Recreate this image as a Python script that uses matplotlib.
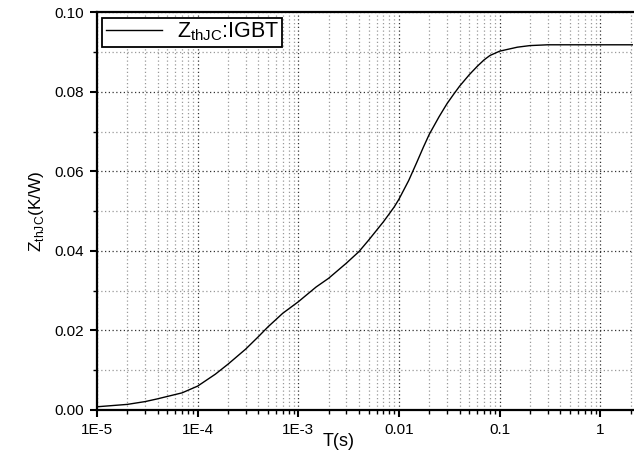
import matplotlib
matplotlib.use("Agg")
import matplotlib.pyplot as plt
from matplotlib.ticker import LogLocator, FixedLocator, MultipleLocator, NullFormatter

plt.rcParams['font.family'] = ['Liberation Sans', 'DejaVu Sans']
plt.rcParams['mathtext.fontset'] = 'custom'
plt.rcParams['mathtext.rm'] = 'Liberation Sans'

# values
t_s = [1e-5, 2e-5, 3e-5, 4e-5, 5e-5, 7e-5, 1e-4, 1.5e-4, 2e-4, 3e-4, 4e-4, 5e-4,
       7e-4, 1e-3, 1.5e-3, 2e-3, 3e-3, 4e-3, 5e-3, 7e-3, 8e-3, 9e-3, 1e-2,
       1.25e-2, 1.5e-2, 1.75e-2, 2e-2, 2.5e-2, 3e-2, 3.5e-2, 4e-2, 5e-2, 6e-2,
       7e-2, 8e-2, 0.1, 0.15, 0.2, 0.3, 0.5, 1.0, 2.1]
zth = [0.0008, 0.0014, 0.0021, 0.0028, 0.0034, 0.0043, 0.0060, 0.0090, 0.0115,
       0.0153, 0.0184, 0.0209, 0.0243, 0.0272, 0.0309, 0.0331, 0.0369, 0.0398,
       0.0427, 0.0473, 0.0493, 0.0511, 0.0530, 0.0577, 0.0622, 0.0661, 0.0693,
       0.0737, 0.0770, 0.0794, 0.0814, 0.0843, 0.0864, 0.0880, 0.0891, 0.0902,
       0.0912, 0.0916, 0.0918, 0.0918, 0.0918, 0.0918]

xticks = [1e-5, 1e-4, 1e-3, 1e-2, 1e-1, 1]
xticklabels = ['1E-5', '1E-4', '1E-3', '0.01', '0.1', '1']

fig = plt.figure(figsize=(6.34, 4.51), dpi=100)
ax = fig.add_axes([0.153, 0.091, 0.845, 0.882])

ax.plot(t_s, zth, color='black', lw=1.0, label=r'Z$_{\mathrm{thJC}}$:IGBT')

ax.set_xscale('log')
ax.set_xlim(1e-5, 2.1)
ax.set_ylim(0, 0.10)

ax.xaxis.set_major_locator(FixedLocator(xticks))
ax.set_xticklabels(xticklabels)
ax.xaxis.set_minor_locator(LogLocator(base=10, subs=range(2, 10), numticks=20))
ax.xaxis.set_minor_formatter(NullFormatter())
ax.yaxis.set_major_locator(MultipleLocator(0.02))
ax.yaxis.set_minor_locator(MultipleLocator(0.01))
ax.yaxis.set_major_formatter(plt.FormatStrFormatter('%.2f'))

ax.grid(which='major', color='#333333', linestyle=(0, (1, 2)), lw=0.9)
ax.grid(which='minor', color='#999999', linestyle=(0, (1, 2)), lw=0.9)

for side in ['left', 'bottom', 'top']:
    ax.spines[side].set_linewidth(1.6)
ax.spines['right'].set_visible(False)

ax.tick_params(which='major', direction='out', length=5, width=1.5, labelsize=11,
               pad=4.5, top=False, right=False)
ax.tick_params(which='minor', direction='out', length=3, width=1.0, top=False, right=False)

ax.set_ylabel(r'Z$_{\mathrm{thJC}}$(K/W)', fontsize=12.5, labelpad=6)
fig.text(339 / 634, 1 - 441 / 451, 'T(s)', fontsize=13, ha='center', va='center')

leg = ax.legend(loc='upper left', fontsize=15.5, fancybox=False, framealpha=1,
                edgecolor='black', borderaxespad=0.25, handlelength=2.6,
                borderpad=0.15, handletextpad=0.7)
leg.get_frame().set_linewidth(1.3)

fig.savefig('out.png', dpi=100)
